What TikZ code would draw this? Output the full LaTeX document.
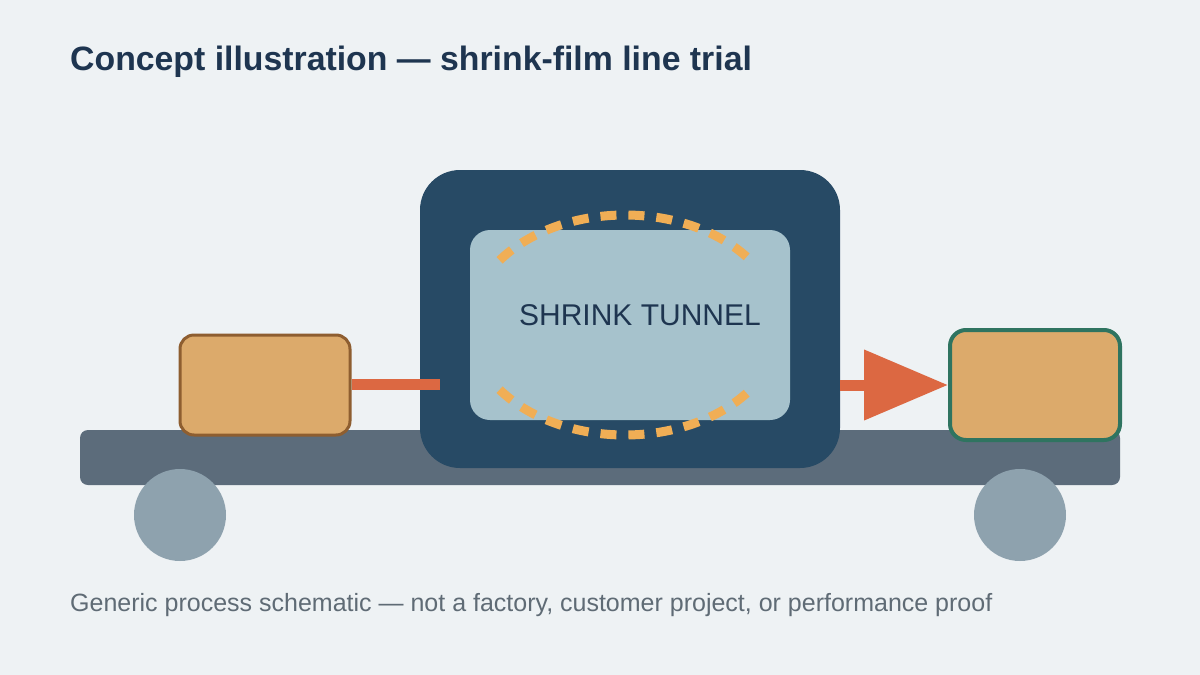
\documentclass[tikz,border=0pt]{standalone}
\usepackage{fontspec}
\setmainfont{Liberation Sans}
\usetikzlibrary{arrows.meta}
\definecolor{bgc}{HTML}{EEF2F4}
\definecolor{titlec}{HTML}{1E3550}
\definecolor{footc}{HTML}{5F6B75}
\definecolor{beltc}{HTML}{5C6C7B}
\definecolor{wheelc}{HTML}{8EA2AE}
\definecolor{tunnelc}{HTML}{274A65}
\definecolor{innerc}{HTML}{A6C2CC}
\definecolor{heatc}{HTML}{F0AE55}
\definecolor{flowc}{HTML}{DC6842}
\definecolor{packc}{HTML}{DCAA6B}
\definecolor{inbord}{HTML}{8E5E30}
\definecolor{outbord}{HTML}{2F7460}
\tikzset{
  pack/.style={draw, fill=packc, rounded corners=14pt, inner sep=0pt},
  wheel/.style={circle, fill=wheelc, minimum size=92pt, inner sep=0pt},
  flow/.style={draw=flowc, line width=11pt},
  heat/.style={draw=heatc, line width=9pt, dash pattern=on 16pt off 12pt},
}
\begin{document}
\begin{tikzpicture}[x=1pt,y=-1pt]
\useasboundingbox (0,0) rectangle (1200,675);
\fill[bgc] (0,0) rectangle (1200,675);
\node[anchor=base west, font=\fontsize{33.8}{40}\selectfont\bfseries, text=titlec, inner sep=0pt] (title) at (70,70) {Concept illustration — shrink-film line trial};
\node[fill=beltc, rounded corners=8pt, minimum width=1040pt, minimum height=55pt, inner sep=0pt] (belt) at (600,457.5) {};
\node[wheel] (wl) at (180,515) {};
\node[wheel] (wr) at (1020,515) {};
\node[pack, draw=inbord, line width=3pt, minimum width=170pt, minimum height=100pt] (inbox) at (265,385) {};
\node[fill=tunnelc, rounded corners=40pt, minimum width=420pt, minimum height=298pt, inner sep=0pt] (tunnel) at (630,319) {};
\node[fill=innerc, rounded corners=20pt, minimum width=320pt, minimum height=190pt, inner sep=0pt] (inner) at (630,325) {};
\node[font=\fontsize{30}{34}\selectfont, text=titlec, inner sep=0pt] (label) at (640,315) {SHRINK TUNNEL};
\draw[heat] plot[domain=144:36, samples=60, smooth] ({625+155*cos(\x)},{325-110*sin(\x)});
\draw[heat] plot[domain=216:324, samples=60, smooth] ({625+155*cos(\x)},{325-110*sin(\x)});
\coordinate (lend) at (440,384.5);
\draw[flow] (inbox.east |- lend) -- (lend);
\node[pack, draw=outbord, line width=4pt, rounded corners=16pt, minimum width=170pt, minimum height=110pt] (outbox) at (1035,385) {};
\draw[flow, -{Triangle[length=84pt,width=68pt]}] (tunnel.east |- outbox.west) -- (outbox.west);
\node[anchor=base west, font=\fontsize{25}{30}\selectfont, text=footc, inner sep=0pt] (foot) at (70,611) {Generic process schematic — not a factory, customer project, or performance proof};
\end{tikzpicture}
\end{document}
